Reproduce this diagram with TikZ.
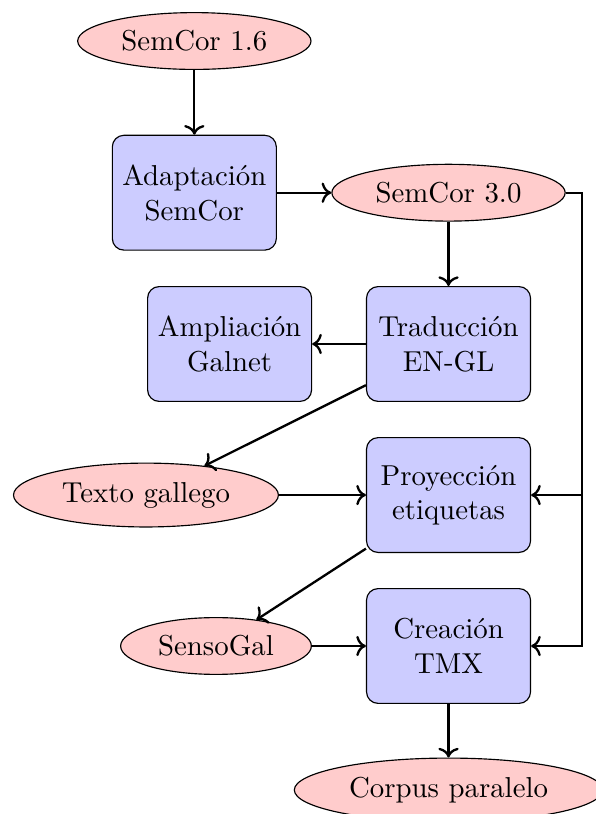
\documentclass[tikz,border=0pt]{standalone}
\usepackage{tikz}
\usetikzlibrary{arrows,arrows.meta,positioning,shapes}
\begin{document}
\begin{tikzpicture}
  \useasboundingbox(0,0)rectangle(7.268,-9.927);
  \tikzstyle{b}=[rectangle,rounded corners,draw,fill=blue!20,align=center,minimum width=2cm,minimum height=1.4cm]
  \tikzstyle{d}=[ellipse,draw,fill=red!20]
  \node[d](s16)at(2.37,-0.5){SemCor 1.6};
  \node[b](adap)at(2.37,-2.35){Adaptación\\SemCor};
  \node[d](s30)at(5.47,-2.35){SemCor 3.0};
  \node[b](ampl)at(2.80,-4.195){Ampliación\\Galnet};
  \node[b](trad)at(5.47,-4.195){Traducción\\EN-GL};
  \node[d](texto)at(1.78,-6.037){Texto gallego};
  \node[b](proy)at(5.47,-6.037){Proyección\\etiquetas};
  \node[d](senso)at(2.634,-7.878){SensoGal};
  \node[b](crea)at(5.47,-7.878){Creación\\TMX};
  \node[d](corpus)at(5.47,-9.634){Corpus paralelo};
  \coordinate(bus)at(7.098,-2.35);
  \tikzstyle{e}=[->,draw=black,thick]
  \foreach\o/\d in{s16/adap,adap/s30,s30/trad,trad/ampl,trad/texto,texto/proy,proy/senso,senso/crea,crea/corpus}{\draw[e](\o)--(\d);}
  \draw[e](s30.east)--(bus)|-(proy.east);
  \draw[e](bus)|-(crea.east);
\end{tikzpicture}
\end{document}
